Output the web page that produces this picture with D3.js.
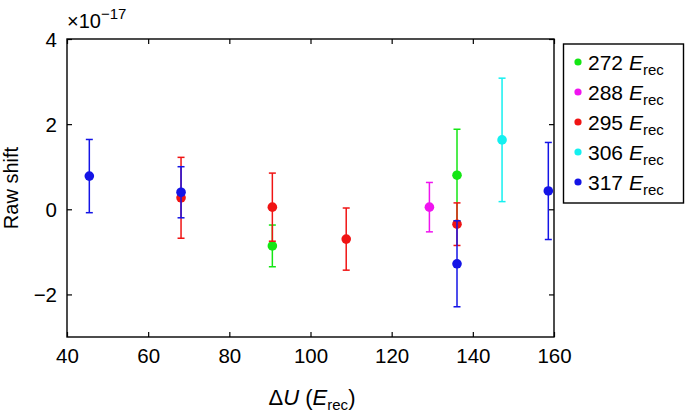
<!DOCTYPE html>
<html><head><meta charset="utf-8">
<script src="https://cdn.jsdelivr.net/npm/d3@7/dist/d3.min.js"></script>
<style>
body{margin:0;background:#fff;}
svg text{font-family:"Liberation Sans",Arial,Helvetica,sans-serif;fill:#000;}
</style></head><body>
<svg id="chart" width="685" height="418"></svg>
<script>
// Data (y values in units of 1e-17)
const seriesNames = ["272", "288", "295", "306", "317"];
const seriesColors = ["#14e614", "#f014f0", "#f01414", "#14f0f0", "#1414e6"];
const xs272 = [90.6, 136.1];
const ys272 = [-0.86, 0.80];
const es272 = [0.49, 1.08];
const xs288 = [129.3];
const ys288 = [0.05];
const es288 = [0.58];
const xs295 = [68.1, 90.6, 108.8, 136.1];
const ys295 = [0.27, 0.05, -0.70, -0.35];
const es295 = [0.95, 0.80, 0.73, 0.50];
const xs306 = [147.2];
const ys306 = [1.63];
const es306 = [1.45];
const xs317 = [45.5, 68.1, 136.1, 158.6];
const ys317 = [0.78, 0.40, -1.28, 0.43];
const es317 = [0.86, 0.60, 1.01, 1.14];
const xTicks = [40, 60, 80, 100, 120, 140, 160];
const yTicks = [-2, 0, 2, 4];

const allX = [xs272, xs288, xs295, xs306, xs317];
const allY = [ys272, ys288, ys295, ys306, ys317];
const allE = [es272, es288, es295, es306, es317];

const svg = d3.select("#chart");
const L = 67, R = 554, T = 39, B = 337;
const x = d3.scaleLinear().domain([40, 160]).range([L, R]);
const y = d3.scaleLinear().domain([-3, 4]).range([B, T]);

// Frame
svg.append("rect").attr("x", L).attr("y", T).attr("width", R - L).attr("height", B - T)
  .attr("fill", "none").attr("stroke", "#000").attr("stroke-width", 1.4);

// Axes with inward ticks
const fmt = d => d < 0 ? "\u2212" + Math.abs(d) : String(d);
const gx = svg.append("g").attr("transform", `translate(0,${B})`)
  .call(d3.axisBottom(x).tickValues(xTicks).tickSize(-5).tickPadding(10).tickFormat(fmt));
const gxt = svg.append("g").attr("transform", `translate(0,${T})`)
  .call(d3.axisTop(x).tickValues(xTicks).tickSize(-5).tickFormat(""));
const gy = svg.append("g").attr("transform", `translate(${L},0)`)
  .call(d3.axisLeft(y).tickValues(yTicks).tickSize(-5).tickPadding(10).tickFormat(fmt));
const gyr = svg.append("g").attr("transform", `translate(${R},0)`)
  .call(d3.axisRight(y).tickValues(yTicks).tickSize(-5).tickFormat(""));
[gx, gxt, gy, gyr].forEach(g => {
  g.select(".domain").remove();
  g.selectAll(".tick line").attr("stroke", "#000").attr("stroke-width", 1.2);
  g.selectAll("text").attr("font-size", 20.5).attr("fill", "#000");
});
gx.selectAll("text").attr("dy", "0.78em");
gy.selectAll("text").attr("dy", "0.35em");

// Exponent label
const ex = svg.append("text").attr("x", 67).attr("y", 28).attr("font-size", 20);
ex.append("tspan").text("\u00d710");
ex.append("tspan").attr("font-size", 15).attr("dy", -9).text("\u221217");

// Axis labels
svg.append("text").attr("transform", `translate(18,${(T + B) / 2}) rotate(-90)`)
  .attr("text-anchor", "middle").attr("font-size", 20).text("Raw shift");
const xl = svg.append("text").attr("x", 312).attr("y", 405).attr("text-anchor", "middle").attr("font-size", 22);
xl.append("tspan").text("\u0394");
xl.append("tspan").attr("font-style", "italic").text("U");
xl.append("tspan").text(" (");
xl.append("tspan").attr("font-style", "italic").text("E");
xl.append("tspan").attr("font-size", 15).attr("dy", 5).text("rec");
xl.append("tspan").attr("dy", -5).text(")");

// Data
const cw = 3.5;
seriesNames.forEach((name, i) => {
  const col = seriesColors[i];
  const g = svg.append("g");
  allX[i].forEach((xv, j) => {
    const yv = allY[i][j], e = allE[i][j];
    const px = x(xv);
    g.append("line").attr("x1", px).attr("x2", px).attr("y1", y(yv + e)).attr("y2", y(yv - e))
      .attr("stroke", col).attr("stroke-width", 1.5);
    [yv + e, yv - e].forEach(v => {
      g.append("line").attr("x1", px - cw).attr("x2", px + cw).attr("y1", y(v)).attr("y2", y(v))
        .attr("stroke", col).attr("stroke-width", 1.5);
    });
    g.append("circle").attr("cx", px).attr("cy", y(yv)).attr("r", 4.8).attr("fill", col);
  });
});

// Legend
svg.append("rect").attr("x", 563.5).attr("y", 44).attr("width", 120).attr("height", 159)
  .attr("fill", "#fff").attr("stroke", "#000").attr("stroke-width", 1.4);
seriesNames.forEach((name, i) => {
  const cy = 62 + i * 30;
  svg.append("circle").attr("cx", 578).attr("cy", cy).attr("r", 3.6).attr("fill", seriesColors[i]);
  const t = svg.append("text").attr("x", 588).attr("y", cy + 8).attr("font-size", 21);
  t.append("tspan").text(name + " ");
  t.append("tspan").attr("font-style", "italic").text("E");
  t.append("tspan").attr("font-size", 15).attr("dy", 5).text("rec");
});
</script>
</body></html>
